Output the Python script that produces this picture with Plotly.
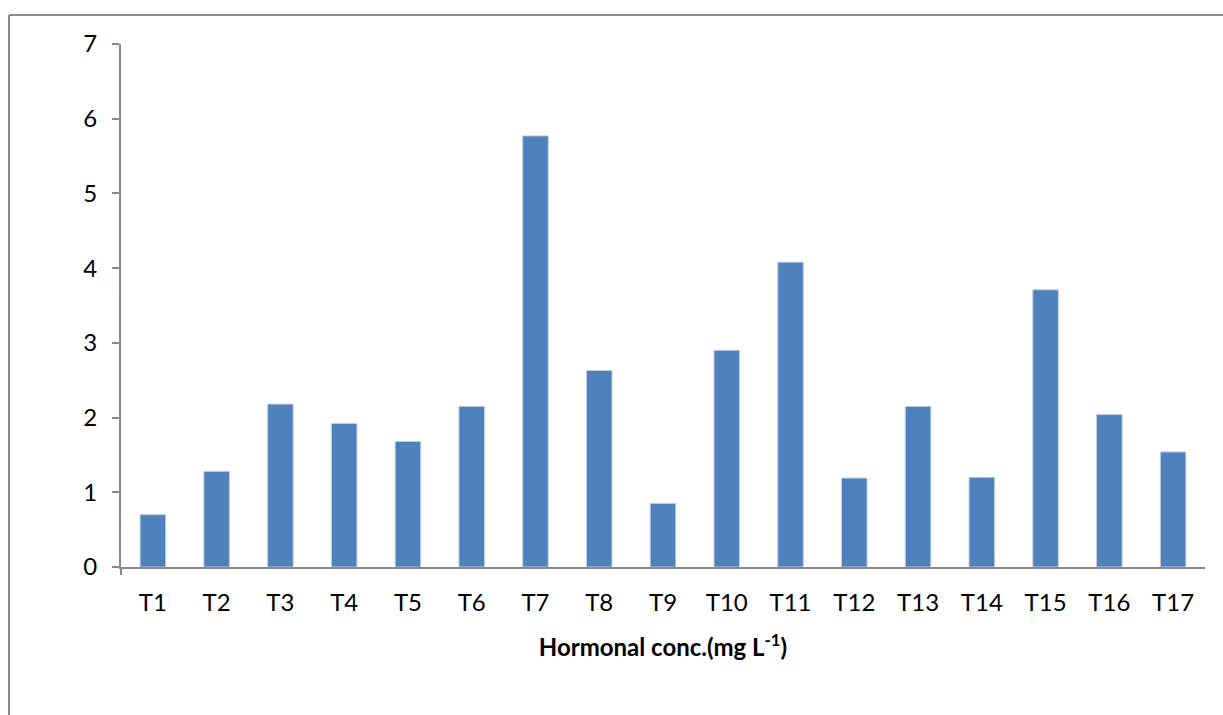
import plotly.graph_objects as go

treatments = ["T1", "T2", "T3", "T4", "T5", "T6", "T7", "T8", "T9",
              "T10", "T11", "T12", "T13", "T14", "T15", "T16", "T17"]
values = [0.70, 1.28, 2.18, 1.92, 1.68, 2.15, 5.77, 2.63, 0.85,
          2.90, 4.08, 1.19, 2.15, 1.20, 3.71, 2.04, 1.54]
y_ticks = [0, 1, 2, 3, 4, 5, 6, 7]

W, H = 1223, 715
L, R, T, B = 121, 18, 44, 148
pw, ph = W - L - R, H - T - B

def px_x(x):
    return (x - L) / pw

def px_y(y):
    return (H - B - y) / ph

axis_grey = "#8a8a8a"
font = "Lato, 'Open Sans', sans-serif"

fig = go.Figure(go.Bar(
    x=treatments, y=values,
    marker=dict(color="#4F81BD", line=dict(color="#b9cde5", width=1)),
))

fig.update_layout(
    width=W, height=H,
    margin=dict(l=L, r=R, t=T, b=B),
    paper_bgcolor="white", plot_bgcolor="white",
    bargap=0.6, showlegend=False,
    font=dict(family=font, color="black"),
    xaxis=dict(
        range=[-0.5, 16.5], showline=True, linecolor=axis_grey, linewidth=2,
        ticks="", showgrid=False, tickfont=dict(size=24, family=font),
        ticklabelstandoff=13,
        title=dict(text="<b>Hormonal conc.(mg L<sup>-1</sup>)</b>",
                   font=dict(size=24, family=font), standoff=24),
    ),
    yaxis=dict(
        range=[0, 7], tickvals=y_ticks, showline=True, linecolor=axis_grey,
        linewidth=2, ticks="outside", ticklen=7, tickcolor=axis_grey,
        tickwidth=2, showgrid=False, zeroline=False,
        tickfont=dict(size=24, family=font), ticklabelstandoff=10,
    ),
    shapes=[
        # outer frame (left and top edges)
        dict(type="line", xref="paper", yref="paper",
             x0=px_x(9), x1=px_x(9), y0=px_y(15), y1=px_y(H + 5),
             line=dict(color=axis_grey, width=2)),
        dict(type="line", xref="paper", yref="paper",
             x0=px_x(9), x1=px_x(W + 5), y0=px_y(15), y1=px_y(15),
             line=dict(color=axis_grey, width=2)),
        # first category tick below the axis origin
        dict(type="line", xref="paper", yref="paper",
             x0=0, x1=0, y0=0, y1=px_y(H - B + 8),
             line=dict(color=axis_grey, width=2)),
    ],
)

fig.write_html("out.html")
